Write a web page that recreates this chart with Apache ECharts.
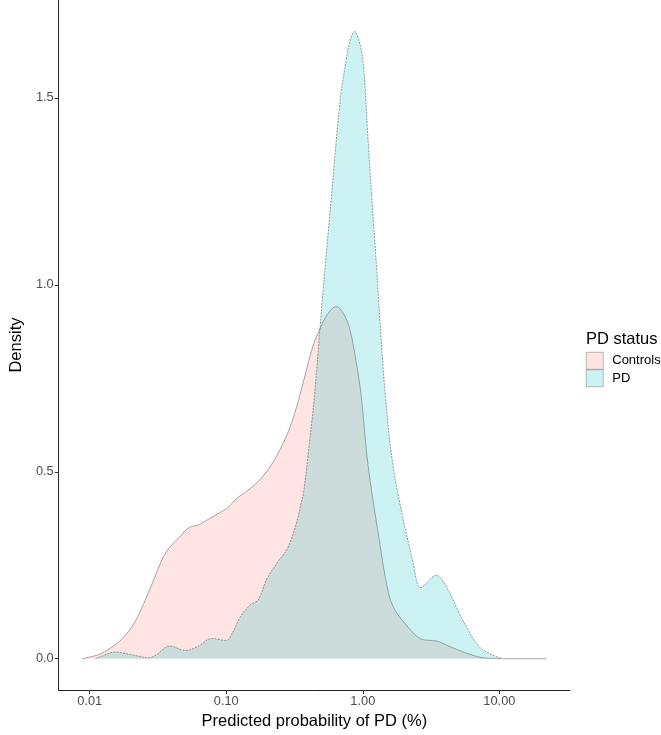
<!DOCTYPE html>
<html>
<head>
<meta charset="utf-8">
<script src="https://cdn.jsdelivr.net/npm/echarts@6/dist/echarts.min.js"></script>
<style>
html,body{margin:0;padding:0;background:#fff;}
#chart{width:661px;height:735px;}
</style>
</head>
<body>
<div id="chart"></div>
<script>
// ---- data (x = predicted probability of PD in %, y = density) ----
const groupNames = ['Controls', 'PD'];

const controlsX = [0.00877, 0.01164, 0.01371, 0.01702, 0.02113, 0.02489, 0.02931, 0.03451, 0.03846, 0.04529,
  0.05333, 0.06266, 0.07379, 0.0869, 0.1023, 0.1202, 0.1306, 0.1622, 0.1941, 0.236, 0.2871, 0.3373, 0.3846,
  0.4307, 0.4831, 0.5508, 0.6397, 0.7261, 0.8035, 0.8954, 0.9727, 1.084, 1.276, 1.542, 1.722, 2.028, 2.661,
  3.483, 4.571, 6.683, 8.318, 10.5, 15.0, 22.23];
const controlsY = [0.0, 0.011, 0.025, 0.051, 0.095, 0.148, 0.210, 0.272, 0.298, 0.325,
  0.351, 0.358, 0.373, 0.388, 0.404, 0.430, 0.439, 0.466, 0.497, 0.545, 0.611, 0.690, 0.770,
  0.836, 0.881, 0.921, 0.942, 0.921, 0.881, 0.792, 0.704, 0.527, 0.351, 0.175, 0.130, 0.095, 0.053,
  0.047, 0.029, 0.007, 0.001, 0.0, 0.0, 0.0];

const pdX = [0.01102, 0.0123, 0.01528, 0.02004, 0.02704, 0.0309, 0.03846, 0.05047, 0.06266, 0.07798,
  0.09954, 0.1109, 0.1271, 0.1496, 0.171, 0.1963, 0.2371, 0.2793, 0.3199, 0.3565, 0.3664, 0.3972, 0.4426,
  0.507, 0.5875, 0.6839, 0.7621, 0.8128, 0.873, 0.9419, 1.012, 1.084, 1.164, 1.256, 1.349, 1.462, 1.648,
  1.919, 2.317, 2.661, 3.451, 4.102, 5.383, 7.261, 10.33];
const pdY = [0.0, 0.007, 0.018, 0.011, 0.003, 0.011, 0.034, 0.022, 0.034, 0.054,
  0.049, 0.069, 0.113, 0.144, 0.157, 0.210, 0.258, 0.294, 0.351, 0.421, 0.439, 0.545, 0.704,
  0.968, 1.233, 1.497, 1.610, 1.658, 1.678, 1.651, 1.585, 1.409, 1.233, 1.056, 0.880, 0.704, 0.527,
  0.395, 0.263, 0.190, 0.223, 0.192, 0.104, 0.029, 0.001];

const xTickValues = [0.01, 0.1, 1, 10];
const xTickLabels = ['0.01', '0.10', '1.00', '10.00'];
const yTickValues = [0, 0.5, 1.0, 1.5];
const yTickLabels = ['0.0', '0.5', '1.0', '1.5'];

const xTitle = 'Predicted probability of PD (%)';
const yTitle = 'Density';
const legendTitle = 'PD status';

// ---- build ----
const lg = v => Math.log10(v);
const allX = controlsX.concat(pdX);
const allY = controlsY.concat(pdY);
const xLo = lg(Math.min.apply(null, allX)), xHi = lg(Math.max.apply(null, allX));
const xPad = 0.05 * (xHi - xLo);
const yLo = 0, yHi = Math.max.apply(null, allY);
const yPad = 0.05 * (yHi - yLo);

const toPairs = (xs, ys) => xs.map((x, i) => [lg(x), ys[i]]);
const xLabelMap = {};
xTickValues.forEach((v, i) => { xLabelMap[lg(v).toFixed(3)] = xTickLabels[i]; });
const yLabelMap = {};
yTickValues.forEach((v, i) => { yLabelMap[v.toFixed(3)] = yTickLabels[i]; });

const fills = ['rgba(248,118,109,0.2)', 'rgba(0,191,196,0.2)'];
const font = 'Liberation Sans, Arial, sans-serif';

const chart = echarts.init(document.getElementById('chart'), null, {renderer: 'canvas'});
chart.setOption({
  animation: false,
  backgroundColor: '#ffffff',
  title: {
    text: legendTitle, left: 586, top: 331,
    textStyle: {fontFamily: font, fontSize: 16.5, fontWeight: 'normal', color: '#000'},
    padding: 0
  },
  legend: {
    orient: 'vertical', left: 586, top: 352, itemWidth: 17, itemHeight: 17, itemGap: 0,
    icon: 'rect', padding: 0,
    textStyle: {fontFamily: font, fontSize: 13, color: '#000', padding: [0, 0, 0, 4]},
    data: groupNames.map((n, i) => ({
      name: n, icon: 'rect',
      itemStyle: {color: fills[i], borderColor: '#7a7a7a', borderWidth: 0.5, opacity: 1}
    }))
  },
  grid: {left: 42, right: 91, top: 0, bottom: 37, containLabel: false},
  xAxis: {
    type: 'value', min: xLo - xPad, max: xHi + xPad,
    name: xTitle, nameLocation: 'middle', nameGap: 19,
    nameTextStyle: {fontFamily: font, fontSize: 16.5, color: '#000'},
    axisLine: {show: true, onZero: false, lineStyle: {color: '#222', width: 1}},
    axisTick: {show: true, length: 4, lineStyle: {color: '#333', width: 1}, customValues: xTickValues.map(lg)},
    axisLabel: {show: true, margin: 5, fontFamily: font, fontSize: 12.8, color: '#4d4d4d',
      customValues: xTickValues.map(lg),
      formatter: v => xLabelMap[Number(v).toFixed(3)] || ''},
    splitLine: {show: false}
  },
  yAxis: {
    type: 'value', min: yLo - yPad, max: yHi + yPad,
    name: yTitle, nameLocation: 'middle', nameGap: 24, nameRotate: 90,
    nameTextStyle: {fontFamily: font, fontSize: 16.5, color: '#000'},
    axisLine: {show: true, onZero: false, lineStyle: {color: '#222', width: 1}},
    axisTick: {show: true, length: 4, lineStyle: {color: '#333', width: 1}, customValues: yTickValues},
    axisLabel: {show: true, margin: 5, fontFamily: font, fontSize: 12.8, color: '#4d4d4d',
      customValues: yTickValues,
      formatter: v => yLabelMap[Number(v).toFixed(3)] || ''},
    splitLine: {show: false}
  },
  series: [
    {
      name: groupNames[0], type: 'line', data: toPairs(controlsX, controlsY),
      smooth: 0.35, symbol: 'none', color: fills[0],
      lineStyle: {color: '#6e6e6e', width: 0.6},
      areaStyle: {color: fills[0], origin: 0, opacity: 1}, z: 2
    },
    {
      name: groupNames[1], type: 'line', data: toPairs(pdX, pdY),
      smooth: 0.35, symbol: 'none', color: fills[1],
      lineStyle: {color: '#5a5a5a', width: 0.6, type: [2, 1.2]},
      areaStyle: {color: fills[1], origin: 0, opacity: 1}, z: 3
    }
  ]
});
</script>
</body>
</html>
